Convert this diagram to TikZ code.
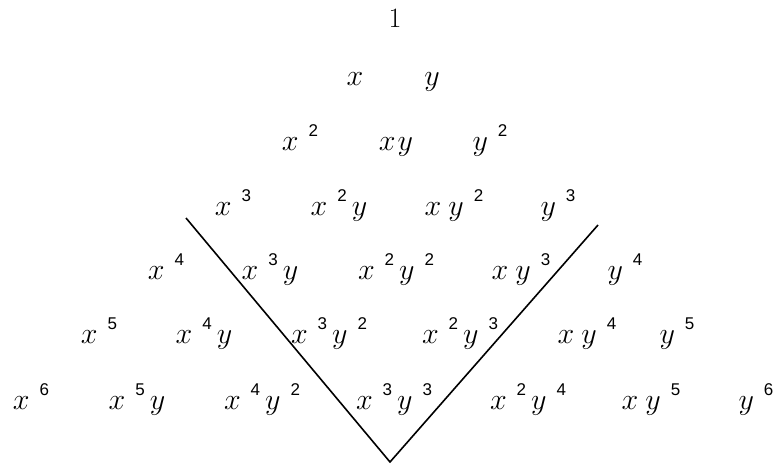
\documentclass[tikz,border=0pt]{standalone}
\usepackage{fix-cm}
\usepackage{fontspec}
\setsansfont{Liberation Sans}
\newcommand\vv[1]{$#1$}
\newcommand\pw[2]{$#1$\hspace{10pt}\raisebox{14pt}{\sffamily\fontsize{17}{17}\selectfont #2}\hspace{5pt}}
\begin{document}
\begin{tikzpicture}[x=1pt,y=-1pt,
  mono/.style={anchor=base, inner sep=0pt, font=\fontsize{30}{32}\selectfont},
  vline/.style={line width=1.6pt}]
\useasboundingbox (0,0) rectangle (773,464);
% row 0
\node[mono, font=\fontsize{28}{30}\selectfont] (n00) at (395,27) {1};
% row 1
\node[mono] (n10) at (355,85) {\vv{x}};
\node[mono] (n11) at (432,85) {\vv{y}};
% row 2
\node[mono] (n20) at (300,150) {\pw{x}{2}};
\node[mono] (n21) at (396,150) {\vv{x}\hspace{2pt}\vv{y}};
\node[mono] (n22) at (490,150) {\pw{y}{2}};
% row 3
\node[mono] (n30) at (233,215) {\pw{x}{3}};
\node[mono] (n31) at (339,215) {\pw{x}{2}\vv{y}};
\node[mono] (n32) at (454,215) {\vv{x}\hspace{7pt}\pw{y}{2}};
\node[mono] (n33) at (558,215) {\pw{y}{3}};
% row 4
\node[mono] (n40) at (166,279) {\pw{x}{4}};
\node[mono] (n41) at (270,279) {\pw{x}{3}\vv{y}};
\node[mono] (n42) at (396,279) {\pw{x}{2}\pw{y}{2}};
\node[mono] (n43) at (521,279) {\vv{x}\hspace{7pt}\pw{y}{3}};
\node[mono] (n44) at (625,279) {\pw{y}{4}};
% row 5
\node[mono] (n50) at (99,343) {\pw{x}{5}};
\node[mono] (n51) at (204,343) {\pw{x}{4}\vv{y}};
\node[mono] (n52) at (329,343) {\pw{x}{3}\pw{y}{2}};
\node[mono] (n53) at (460,343) {\pw{x}{2}\pw{y}{3}};
\node[mono] (n54) at (587,343) {\vv{x}\hspace{7pt}\pw{y}{4}};
\node[mono] (n55) at (677,343) {\pw{y}{5}};
% row 6
\node[mono] (n60) at (31,409) {\pw{x}{6}};
\node[mono] (n61) at (137,409) {\pw{x}{5}\vv{y}};
\node[mono] (n62) at (262,409) {\pw{x}{4}\pw{y}{2}};
\node[mono] (n63) at (394,409) {\pw{x}{3}\pw{y}{3}};
\node[mono] (n64) at (528,409) {\pw{x}{2}\pw{y}{4}};
\node[mono] (n65) at (651,409) {\vv{x}\hspace{7pt}\pw{y}{5}};
\node[mono] (n66) at (756,409) {\pw{y}{6}};
% V lines
\coordinate (lt) at (186,218);
\coordinate (vx) at (390,462);
\coordinate (rt) at (598,225);
\draw[vline] (lt) -- (vx) -- (rt);
\end{tikzpicture}
\end{document}
